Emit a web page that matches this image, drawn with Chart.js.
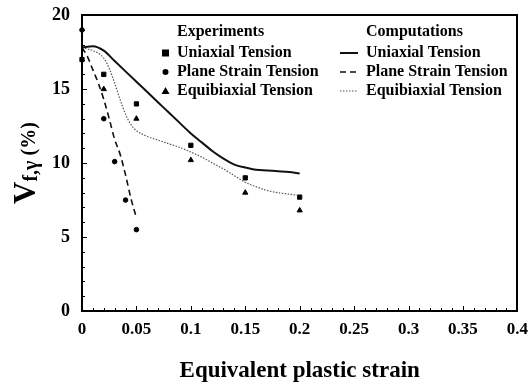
<!DOCTYPE html>
<html>
<head>
<meta charset="utf-8">
<script src="https://cdn.jsdelivr.net/npm/chart.js@4.4.1/dist/chart.umd.min.js"></script>
</head>
<body style="margin:0; background:#fff">
<canvas id="chart" width="532" height="385"></canvas>
<script>
// Experiments (markers)
const uniaxialExpX = [0, 0.02, 0.05, 0.1, 0.15, 0.2];
const uniaxialExpY = [17.0, 16.0, 14.0, 11.2, 9.0, 7.7];
const planeExpX = [0, 0.02, 0.03, 0.04, 0.05];
const planeExpY = [19.0, 13.0, 10.1, 7.5, 5.5];
const equiExpX = [0.02, 0.05, 0.1, 0.15, 0.2];
const equiExpY = [15.0, 13.0, 10.2, 8.0, 6.8];

// Computations (curves)
const uniaxialCompX = [0, 0.01, 0.02, 0.03, 0.04, 0.05, 0.06, 0.07, 0.08, 0.09, 0.1, 0.11, 0.12, 0.13, 0.14, 0.15, 0.16, 0.17, 0.18, 0.19, 0.2];
const uniaxialCompY = [17.8, 17.9, 17.6, 16.9, 16.2, 15.5, 14.8, 14.1, 13.4, 12.7, 12.0, 11.4, 10.8, 10.3, 9.9, 9.7, 9.55, 9.5, 9.45, 9.4, 9.3];
const planeCompX = [0, 0.005, 0.01, 0.015, 0.02, 0.025, 0.03, 0.035, 0.04, 0.045, 0.05];
const planeCompY = [17.8, 17.2, 16.3, 15.4, 14.3, 13.0, 11.6, 10.6, 9.2, 7.6, 6.3];
const equiCompX = [0, 0.01, 0.02, 0.025, 0.03, 0.035, 0.04, 0.045, 0.05, 0.06, 0.07, 0.08, 0.09, 0.1, 0.11, 0.12, 0.13, 0.14, 0.15, 0.16, 0.17, 0.18, 0.19, 0.2];
const equiCompY = [17.8, 17.6, 17.1, 16.4, 15.4, 14.3, 13.3, 12.6, 12.2, 11.8, 11.55, 11.3, 11.05, 10.75, 10.4, 10.0, 9.6, 9.15, 8.7, 8.4, 8.15, 8.0, 7.9, 7.8];

const expLabels = ['Uniaxial Tension', 'Plane Strain Tension', 'Equibiaxial Tension'];
const compLabels = ['Uniaxial Tension', 'Plane Strain Tension', 'Equibiaxial Tension'];

const SERIF = '"Times New Roman", "Liberation Serif", serif';

const pts = (xs, ys) => xs.map((x, i) => ({ x: x, y: ys[i] }));

function markerSet(label, xs, ys, style, r) {
  return {
    type: 'scatter', label: label, data: pts(xs, ys), xAxisID: 'x', yAxisID: 'y',
    pointStyle: style, pointRadius: r, pointBackgroundColor: '#000',
    pointBorderColor: '#000', pointBorderWidth: 1, showLine: false, clip: 8
  };
}
function curveSet(label, xs, ys, width, dash, color) {
  return {
    type: 'line', label: label, data: pts(xs, ys), xAxisID: 'x', yAxisID: 'y',
    borderColor: color, borderWidth: width, borderDash: dash,
    pointRadius: 0, fill: false, cubicInterpolationMode: 'monotone', clip: 4
  };
}

// frame, inward minor ticks, legend and y title
const decorations = {
  id: 'decorations',
  afterDraw(chart) {
    const ctx = chart.ctx;
    const a = chart.chartArea;
    const xs = chart.scales.x, ys = chart.scales.y;
    ctx.save();
    ctx.setLineDash([]);
    ctx.strokeStyle = '#000';
    ctx.lineWidth = 2;
    const L = Math.round(a.left), T = Math.round(a.top), R = Math.round(a.right), B = Math.round(a.bottom);
    ctx.strokeRect(L, T, R - L, B - T);

    ctx.lineWidth = 1;
    for (let i = 0; i <= 40; i++) {
      const px = Math.round(xs.getPixelForValue(i / 100)) + 0.5;
      const len = i % 5 === 0 ? 5 : 3;
      ctx.beginPath(); ctx.moveTo(px, B); ctx.lineTo(px, B - len); ctx.stroke();
    }
    for (let j = 0; j <= 20; j++) {
      const py = Math.round(ys.getPixelForValue(j)) + 0.5;
      const len = j % 5 === 0 ? 5 : 3;
      ctx.beginPath(); ctx.moveTo(L, py); ctx.lineTo(L + len, py); ctx.stroke();
    }

    // legend
    ctx.fillStyle = '#000';
    ctx.textBaseline = 'middle';
    ctx.textAlign = 'left';
    ctx.font = 'bold 16px ' + SERIF;
    const rowY = [32, 53, 72, 91];
    ctx.fillText('Experiments', 177, rowY[0]);
    ctx.fillText('Computations', 366, rowY[0]);
    expLabels.forEach((t, i) => ctx.fillText(t, 177, rowY[i + 1]));
    compLabels.forEach((t, i) => ctx.fillText(t, 366, rowY[i + 1]));
    // marker samples
    ctx.fillRect(162, rowY[1] - 3.5, 7, 7);
    ctx.beginPath(); ctx.arc(165.5, rowY[2], 3, 0, Math.PI * 2); ctx.fill();
    ctx.beginPath();
    ctx.moveTo(165.5, rowY[3] - 4); ctx.lineTo(169.5, rowY[3] + 3); ctx.lineTo(161.5, rowY[3] + 3);
    ctx.closePath(); ctx.fill();
    // line samples
    chart.data.datasets.filter(d => d.type === 'line').forEach((d, i) => {
      ctx.beginPath();
      ctx.strokeStyle = d.borderColor;
      ctx.lineWidth = d.borderWidth;
      ctx.setLineDash(d.borderDash);
      ctx.moveTo(340, rowY[i + 1]); ctx.lineTo(358, rowY[i + 1]);
      ctx.stroke();
    });
    ctx.setLineDash([]);

    // y axis title: V with subscript f,γ and (%)
    ctx.translate(25, (a.top + a.bottom) / 2);
    ctx.rotate(-Math.PI / 2);
    ctx.textBaseline = 'alphabetic';
    ctx.font = 'bold 31px ' + SERIF;
    const wV = ctx.measureText('V').width;
    ctx.font = 'bold 20px ' + SERIF;
    const wSub = ctx.measureText('f,γ').width;
    const wP = ctx.measureText(' (%)').width;
    let x0 = -(wV + wSub + wP) / 2;
    const base = 10;
    ctx.font = 'bold 31px ' + SERIF;
    ctx.fillText('V', x0, base);
    x0 += wV;
    ctx.font = 'bold 20px ' + SERIF;
    ctx.fillText('f,γ', x0, base + 2);
    x0 += wSub;
    ctx.fillText(' (%)', x0, base);
    ctx.restore();
  }
};

const frameBorder = { display: true, color: '#000', width: 2 };

new Chart(document.getElementById('chart'), {
  type: 'scatter',
  data: {
    datasets: [
      curveSet('Uniaxial Tension (computation)', uniaxialCompX, uniaxialCompY, 2, [], '#111'),
      curveSet('Plane Strain Tension (computation)', planeCompX, planeCompY, 1.6, [6, 4], '#111'),
      curveSet('Equibiaxial Tension (computation)', equiCompX, equiCompY, 1.2, [1.5, 1.5], '#555'),
      markerSet('Uniaxial Tension', uniaxialExpX, uniaxialExpY, 'rect', 3),
      markerSet('Plane Strain Tension', planeExpX, planeExpY, 'circle', 2.3),
      markerSet('Equibiaxial Tension', equiExpX, equiExpY, 'triangle', 3)
    ]
  },
  options: {
    responsive: false,
    animation: false,
    layout: { padding: 0 },
    plugins: { legend: { display: false }, tooltip: { enabled: false } },
    scales: {
      x: {
        type: 'linear', position: 'bottom', min: 0, max: 0.4,
        grid: { display: false, drawTicks: false },
        border: frameBorder,
        ticks: {
          stepSize: 0.05, padding: 4, color: '#000',
          font: { family: SERIF, size: 17, weight: 'bold', lineHeight: 1.75 },
          callback: v => String(Number(v.toFixed(2)))
        },
        title: {
          display: true, text: 'Equivalent plastic strain', color: '#000',
          font: { family: SERIF, size: 23, weight: 'bold' },
          padding: { top: 0, bottom: 0 }
        },
        afterFit: s => { s.height = 74; }
      },
      y: {
        type: 'linear', position: 'left', min: 0, max: 20,
        grid: { display: false, drawTicks: false },
        border: frameBorder,
        ticks: {
          stepSize: 5, padding: 12, color: '#000',
          font: { family: SERIF, size: 18, weight: 'bold', lineHeight: 0.35 }
        },
        afterFit: s => { s.width = 82; }
      },
      xTop: {
        type: 'linear', axis: 'x', position: 'top', min: 0, max: 0.4,
        grid: { display: false, drawTicks: false },
        border: frameBorder,
        ticks: { display: false },
        afterFit: s => { s.height = 0; }
      },
      yRight: {
        type: 'linear', axis: 'y', position: 'right', min: 0, max: 20,
        grid: { display: false, drawTicks: false },
        border: frameBorder,
        ticks: { display: false },
        afterFit: s => { s.width = 0; }
      }
    }
  },
  plugins: [decorations]
});
</script>
</body>
</html>
